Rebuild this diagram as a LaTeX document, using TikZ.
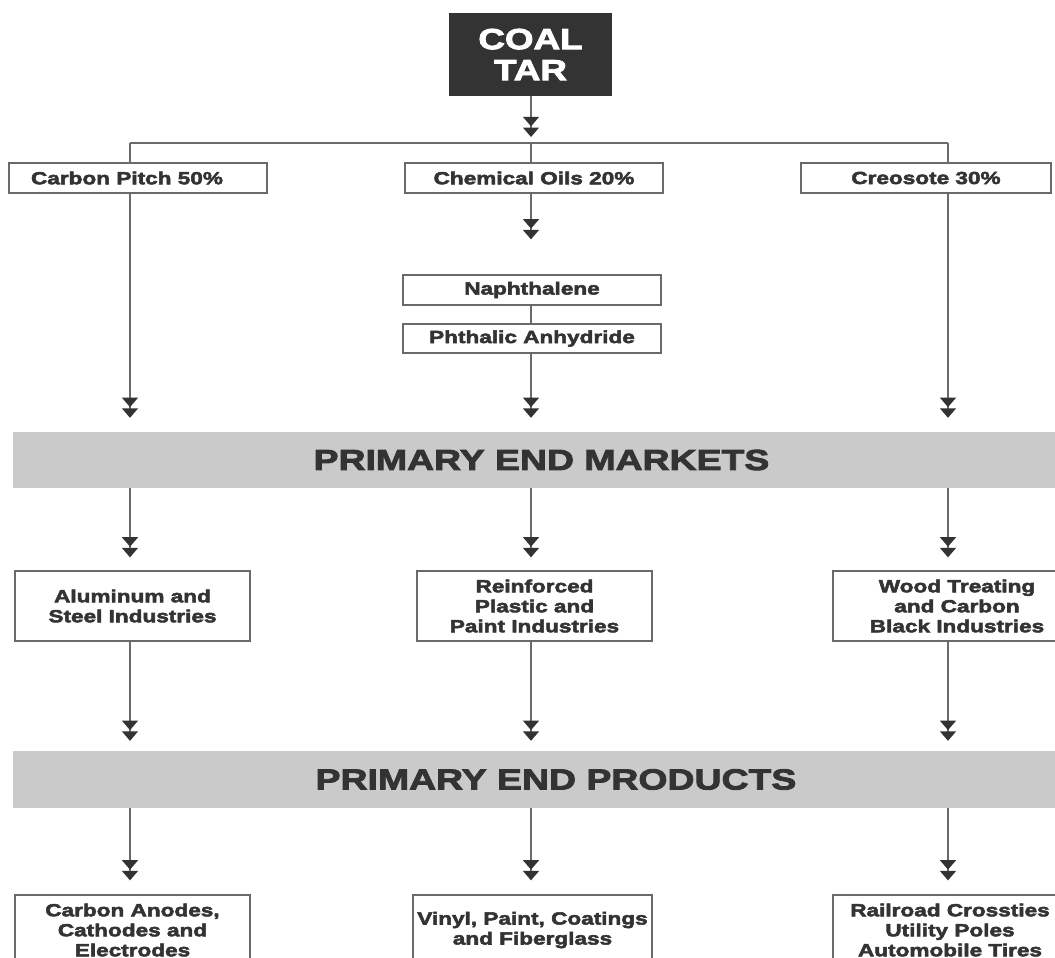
\documentclass[tikz,border=0pt]{standalone}
\usepackage{fontspec}
\newfontfamily\heavy{Liberation Sans}[UprightFont=* Bold, FakeStretch=1.29, FakeBold=3]
\newfontfamily\heavytitle{Liberation Sans}[UprightFont=* Bold, FakeStretch=1.27, FakeBold=3]
\usetikzlibrary{arrows.meta}
\definecolor{ink}{HTML}{333333}
\definecolor{bandgray}{HTML}{CACACA}
\definecolor{edge}{HTML}{6A6A6A}
\tikzset{
  base/.style={inner sep=0pt, align=center, text=ink, font=\heavy\fontsize{17.5}{20}\selectfont},
  box/.style={base, draw=edge, line width=1.3pt, fill=white, minimum height=#1},
  band/.style={base, fill=bandgray, minimum height=56pt, font=\heavy\fontsize{29}{32}\selectfont},
  plain/.style={draw=edge, line width=1.4pt},
  dbl/.style={plain, -{Triangle[width=16pt,length=9.5pt,color=ink,sep=1.2pt]Triangle[width=16pt,length=9.5pt,color=ink]}},
}
\begin{document}
\begin{tikzpicture}[x=1pt, y=-1pt]
\clip (0,0) rectangle (1055,958);
\fill[white] (0,0) rectangle (1055,958);
% columns
\coordinate (c1) at (130,0);
\coordinate (c2) at (531,0);
\coordinate (c3) at (948,0);
\coordinate (hub) at (531,143);
\coordinate (hubL) at (130,143);
\coordinate (hubR) at (948,143);
% nodes
\node[base, fill=ink, text=white, minimum width=163pt, minimum height=83pt,
      font=\heavytitle\fontsize{29}{31}\selectfont] (coal) at (530.5,54.5) {COAL\\TAR};
\node[box=30pt, minimum width=258pt] (cp) at (138,178) {Carbon Pitch 50\%\hspace*{22pt}};
\node[box=30pt, minimum width=258pt] (co) at (534,178) {Chemical Oils 20\%};
\node[box=30pt, minimum width=250pt] (cr) at (926,178) {Creosote 30\%};
\node[box=30pt, minimum width=258pt] (nap) at (532,290) {Naphthalene};
\node[box=29pt, minimum width=258pt] (pht) at (532,338.5) {Phthalic Anhydride};
\node[band, minimum width=1057pt] (mk) at (541.5,460) {PRIMARY END MARKETS};
\node[box=70pt, minimum width=235pt] (al) at (132.5,606) {Aluminum and\\Steel Industries};
\node[box=70pt, minimum width=235pt] (rp) at (534.5,606) {Reinforced\\Plastic and\\Paint Industries};
\node[box=70pt, minimum width=248pt] (wt) at (957,606) {Wood Treating\\and Carbon\\Black Industries};
\node[band, minimum width=1086pt, minimum height=57pt] (pr) at (556,779.5) {PRIMARY END PRODUCTS};
\node[box=70pt, minimum width=235pt] (ca) at (132.5,930) {Carbon Anodes,\\Cathodes and\\Electrodes};
\node[box=70pt, minimum width=239pt] (vp) at (532.5,930) {Vinyl, Paint, Coatings\\and Fiberglass};
\node[box=70pt, minimum width=234pt] (rr) at (950,930) {Railroad Crossties\\Utility Poles\\Automobile Tires};
% top distribution
\draw[dbl, shorten >=6pt] (coal.south -| c2) -- (hub);
\draw[plain] (hubL) -- (hubR);
\draw[plain] (hubL) -- (cp.north -| c1);
\draw[plain] (hub) -- (co.north -| c2);
\draw[plain] (hubR) -- (cr.north -| c3);
% chemical oils chain
\draw[dbl, shorten >=35pt] (co.south -| c2) -- (nap.north -| c2);
\draw[plain] (nap.south -| c2) -- (pht.north -| c2);
% to primary end markets
\draw[dbl, shorten >=14pt] (cp.south -| c1) -- (mk.north -| c1);
\draw[dbl, shorten >=14pt] (pht.south -| c2) -- (mk.north -| c2);
\draw[dbl, shorten >=14pt] (cr.south -| c3) -- (mk.north -| c3);
% to market boxes
\draw[dbl, shorten >=13pt] (mk.south -| c1) -- (al.north -| c1);
\draw[dbl, shorten >=13pt] (mk.south -| c2) -- (rp.north -| c2);
\draw[dbl, shorten >=13pt] (mk.south -| c3) -- (wt.north -| c3);
% to primary end products
\draw[dbl, shorten >=10pt] (al.south -| c1) -- (pr.north -| c1);
\draw[dbl, shorten >=10pt] (rp.south -| c2) -- (pr.north -| c2);
\draw[dbl, shorten >=10pt] (wt.south -| c3) -- (pr.north -| c3);
% to product boxes
\draw[dbl, shorten >=14pt] (pr.south -| c1) -- (ca.north -| c1);
\draw[dbl, shorten >=14pt] (pr.south -| c2) -- (vp.north -| c2);
\draw[dbl, shorten >=14pt] (pr.south -| c3) -- (rr.north -| c3);
\end{tikzpicture}
\end{document}
